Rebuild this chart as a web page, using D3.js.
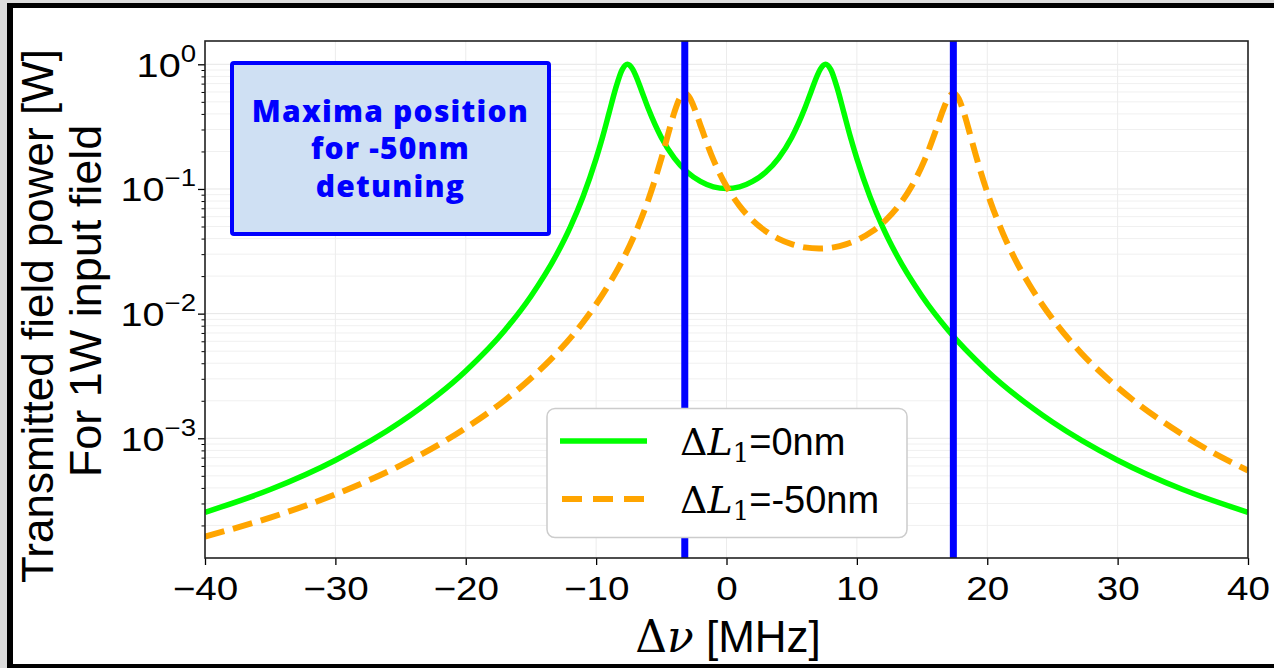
<!DOCTYPE html>
<html>
<head>
<meta charset="utf-8">
<script src="https://cdn.jsdelivr.net/npm/d3@7"></script>
<style>
  html, body { margin: 0; padding: 0; background: #dcdcdc; }
  #chart { width: 1274px; height: 668px; }
  text { font-family: "Liberation Sans", Arial, sans-serif; }
</style>
</head>
<body>
<div id="chart"></div>
<script>
// Transmitted power vs detuning, log y axis, two cases of ΔL1

// ΔL1 = 0nm (green solid)
const freqZero = [-40, -35, -30, -25, -20, -17, -15, -13, -12, -11, -10, -9.5, -9, -8.5, -8, -7.6, -7.2, -7, -6.5, -6, -5, -4, -3, -2, -1,
  0, 1, 2, 3, 4, 5, 6, 6.5, 7, 7.2, 7.6, 8, 8.5, 9, 9.5, 10, 11, 12, 13, 15, 17, 20, 25, 30, 35, 40];
const powerZero = [2.55e-4, 3.88e-4, 6.67e-4, 1.35e-3, 3.47e-3, 7.36e-3, 0.0138, 0.0302, 0.049, 0.087, 0.175, 0.262, 0.41, 0.641, 0.906, 1.0, 0.914, 0.83, 0.609, 0.442, 0.259, 0.177, 0.136, 0.115, 0.104,
  0.101, 0.104, 0.115, 0.136, 0.177, 0.259, 0.442, 0.609, 0.83, 0.914, 1.0, 0.906, 0.641, 0.41, 0.262, 0.175, 0.087, 0.049, 0.0302, 0.0138, 7.36e-3, 3.47e-3, 1.35e-3, 6.67e-4, 3.88e-4, 2.55e-4];

// ΔL1 = -50nm (orange dashed)
const freqMinus50 = [-40, -35, -30, -25, -20, -17, -15, -13, -11, -9, -8, -7, -6, -5, -4.5, -4, -3.6, -3.2, -2.8, -2.4, -2, -1, 0, 1, 2, 3, 4, 5, 6, 7.1,
  8.2, 9.2, 10.2, 11.2, 12.2, 13.2, 14.2, 15.2, 16.2, 16.6, 17.0, 17.4, 17.8, 18.2, 18.7, 19.2, 20.2, 21.2, 22.2, 23.2, 25.2, 27.2, 29.2, 31.2, 34.2, 37, 40];
const powerMinus50 = [1.63e-4, 2.31e-4, 3.55e-4, 6.07e-4, 1.21e-3, 2.02e-3, 3.03e-3, 4.84e-3, 8.53e-3, 0.0173, 0.0265, 0.0441, 0.0817, 0.175, 0.27, 0.412, 0.532, 0.585, 0.533, 0.427, 0.325, 0.171, 0.105, 0.0732, 0.056, 0.0459, 0.0398, 0.0361, 0.034, 0.0333,
  0.034, 0.0361, 0.0398, 0.0459, 0.056, 0.0732, 0.105, 0.171, 0.325, 0.427, 0.533, 0.585, 0.532, 0.412, 0.27, 0.175, 0.0817, 0.0441, 0.0265, 0.0173, 8.53e-3, 4.84e-3, 3.03e-3, 2.02e-3, 1.21e-3, 8.0e-4, 5.52e-4];

// maxima positions for the -50nm case (blue lines)
const maximaMinus50 = [-3.2, 17.4];

const xTicks = [-40, -30, -20, -10, 0, 10, 20, 30, 40];
const yMajorTicks = [1, 0.1, 0.01, 0.001];
const yMajorExp = ["0", "\u22121", "\u22122", "\u22123"];
const yDomain = [1.096e-4, 1.538];

const boxLines = ["Maxima position", "for -50nm", "detuning"];
const legendNames = ["=0nm", "=-50nm"];

function renderTransmission(containerId) {
  const container = d3.select(`#${containerId}`);
  const width = 1274, height = 668;
  const margin = { top: 41, right: 26, bottom: 110, left: 205 };
  const innerWidth = width - margin.left - margin.right;
  const innerHeight = height - margin.top - margin.bottom;

  const svg = container.append("svg")
    .attr("width", width)
    .attr("height", height);

  // picture frame
  svg.append("rect").attr("width", width).attr("height", height).attr("fill", "#dcdcdc");
  svg.append("rect").attr("x", 7).attr("y", 3).attr("width", width - 7).attr("height", height - 3).attr("fill", "#000");
  svg.append("rect").attr("x", 13).attr("y", 8).attr("width", width - 13).attr("height", height - 12).attr("fill", "#fff");

  const g = svg.append("g").attr("transform", `translate(${margin.left},${margin.top})`);

  const x = d3.scaleLinear().domain([-40, 40]).range([0, innerWidth]);
  const y = d3.scaleLog().domain(yDomain).range([innerHeight, 0]);

  // minor log ticks
  const yMinor = [];
  for (let e = -4; e <= 0; e++) {
    for (let m = 2; m <= 9; m++) {
      const v = m * Math.pow(10, e);
      if (v >= yDomain[0] && v <= yDomain[1]) yMinor.push(v);
    }
  }

  // grid
  g.append("g").selectAll("line.hmin")
    .data(yMinor).join("line")
    .attr("x1", 0).attr("x2", innerWidth)
    .attr("y1", d => y(d)).attr("y2", d => y(d))
    .attr("stroke", "#f0f0f0").attr("stroke-width", 1);
  g.append("g").selectAll("line.hmaj")
    .data(yMajorTicks).join("line")
    .attr("x1", 0).attr("x2", innerWidth)
    .attr("y1", d => y(d)).attr("y2", d => y(d))
    .attr("stroke", "#e6e6e6").attr("stroke-width", 1);
  g.append("g").selectAll("line.v")
    .data(xTicks).join("line")
    .attr("x1", d => x(d)).attr("x2", d => x(d))
    .attr("y1", 0).attr("y2", innerHeight)
    .attr("stroke", "#ececec").attr("stroke-width", 1);

  const line = d3.line()
    .x(d => x(d[0]))
    .y(d => y(d[1]))
    .curve(d3.curveMonotoneX);

  svg.append("clipPath").attr("id", "plotclip")
    .append("rect").attr("width", innerWidth).attr("height", innerHeight);

  const plot = g.append("g").attr("clip-path", "url(#plotclip)");

  plot.append("path")
    .datum(d3.zip(freqZero, powerZero))
    .attr("d", line)
    .attr("fill", "none")
    .attr("stroke", "#00ff00")
    .attr("stroke-width", 5.5);

  plot.append("path")
    .datum(d3.zip(freqMinus50, powerMinus50))
    .attr("d", line)
    .attr("fill", "none")
    .attr("stroke", "#ffa500")
    .attr("stroke-width", 6)
    .attr("stroke-dasharray", "20,9");

  plot.selectAll("line.maxima")
    .data(maximaMinus50).join("line")
    .attr("x1", d => x(d)).attr("x2", d => x(d))
    .attr("y1", 0).attr("y2", innerHeight)
    .attr("stroke", "#0000ff")
    .attr("stroke-width", 7);

  // axes
  const xAxis = g.append("g")
    .attr("transform", `translate(0,${innerHeight})`)
    .call(d3.axisBottom(x).tickValues(xTicks).tickSize(7).tickPadding(12).tickSizeOuter(0));
  xAxis.select(".domain").remove();
  xAxis.selectAll("line").attr("stroke", "#000").attr("stroke-width", 1.3);
  xAxis.selectAll("text")
    .attr("fill", "#000")
    .style("font-size", "33px")
    .attr("dy", "0.69em")
    .attr("transform", "scale(1.17,1)");

  const yAxisMinor = g.append("g")
    .call(d3.axisLeft(y).tickValues(yMinor).tickSize(3.5).tickFormat("").tickSizeOuter(0));
  yAxisMinor.select(".domain").remove();
  yAxisMinor.selectAll("line").attr("stroke", "#000").attr("stroke-width", 1);

  const yAxis = g.append("g")
    .call(d3.axisLeft(y).tickValues(yMajorTicks).tickSize(7).tickFormat("").tickSizeOuter(0));
  yAxis.select(".domain").remove();
  yAxis.selectAll("line").attr("stroke", "#000").attr("stroke-width", 1.3);

  yAxis.selectAll(".tick").each(function (d, i) {
    const t = d3.select(this).append("text")
      .attr("x", 0)
      .attr("y", 0)
      .attr("text-anchor", "end")
      .attr("fill", "#000")
      .attr("transform", "translate(-9,12) scale(1.2,1)")
      .style("font-size", "33px");
    t.append("tspan").text("10");
    t.append("tspan")
      .attr("dy", -15)
      .style("font-size", "23px")
      .text(yMajorExp[i]);
  });

  // spine
  g.append("rect")
    .attr("width", innerWidth).attr("height", innerHeight)
    .attr("fill", "none").attr("stroke", "#222").attr("stroke-width", 1.6);

  // annotation box
  const box = svg.append("g");
  box.append("rect")
    .attr("x", 232).attr("y", 63).attr("width", 317).attr("height", 171)
    .attr("rx", 2)
    .attr("fill", "#cfe0f3")
    .attr("stroke", "#0000ff").attr("stroke-width", 4);
  box.selectAll("text")
    .data(boxLines).join("text")
    .attr("x", 390.5)
    .attr("y", (d, i) => 121.7 + i * 37.6)
    .attr("text-anchor", "middle")
    .attr("fill", "#0000ff")
    .style("font-family", "'Open Sans', sans-serif")
    .style("font-weight", "800")
    .style("font-size", "30px")
    .style("letter-spacing", "1.2px")
    .text(d => d);

  // legend
  const leg = svg.append("g");
  leg.append("rect")
    .attr("x", 547).attr("y", 408.5).attr("width", 360).attr("height", 129)
    .attr("rx", 8)
    .attr("fill", "#fff")
    .attr("stroke", "#cccccc").attr("stroke-width", 1.5);

  const legY = [441, 499];
  leg.append("line")
    .attr("x1", 560).attr("x2", 647).attr("y1", legY[0]).attr("y2", legY[0])
    .attr("stroke", "#00ff00").attr("stroke-width", 5.5);
  leg.append("line")
    .attr("x1", 562).attr("x2", 645).attr("y1", legY[1]).attr("y2", legY[1])
    .attr("stroke", "#ffa500").attr("stroke-width", 6)
    .attr("stroke-dasharray", "20,11");

  legendNames.forEach((name, i) => {
    const t = leg.append("text")
      .attr("x", 680)
      .attr("y", legY[i] + 14)
      .attr("fill", "#000")
      .style("font-size", "38px");
    t.append("tspan").style("font-family", "'DejaVu Serif', serif").text("\u0394");
    t.append("tspan").style("font-family", "'DejaVu Serif', serif").style("font-style", "italic").text("L");
    t.append("tspan").style("font-family", "'DejaVu Serif', serif").style("font-size", "26px").attr("dy", 7).text("1");
    t.append("tspan").attr("dy", -7).text(name);
  });

  // axis labels
  const xl = svg.append("text")
    .attr("x", 728)
    .attr("y", 652)
    .attr("text-anchor", "middle")
    .attr("fill", "#000")
    .style("font-size", "44px");
  xl.append("tspan").style("font-family", "'DejaVu Serif', serif").text("\u0394");
  xl.append("tspan").style("font-family", "'DejaVu Serif', serif").style("font-style", "italic").text("\u03bd");
  xl.append("tspan").text(" [MHz]");

  svg.append("text")
    .attr("transform", "translate(53,316) rotate(-90)")
    .attr("text-anchor", "middle")
    .attr("fill", "#000")
    .style("font-size", "44px")
    .text("Transmitted field power [W]");

  svg.append("text")
    .attr("transform", "translate(101,301) rotate(-90)")
    .attr("text-anchor", "middle")
    .attr("fill", "#000")
    .style("font-size", "45px")
    .text("For 1W input field");
}

document.addEventListener("DOMContentLoaded", () => {
  renderTransmission("chart");
});
</script>
</body>
</html>
